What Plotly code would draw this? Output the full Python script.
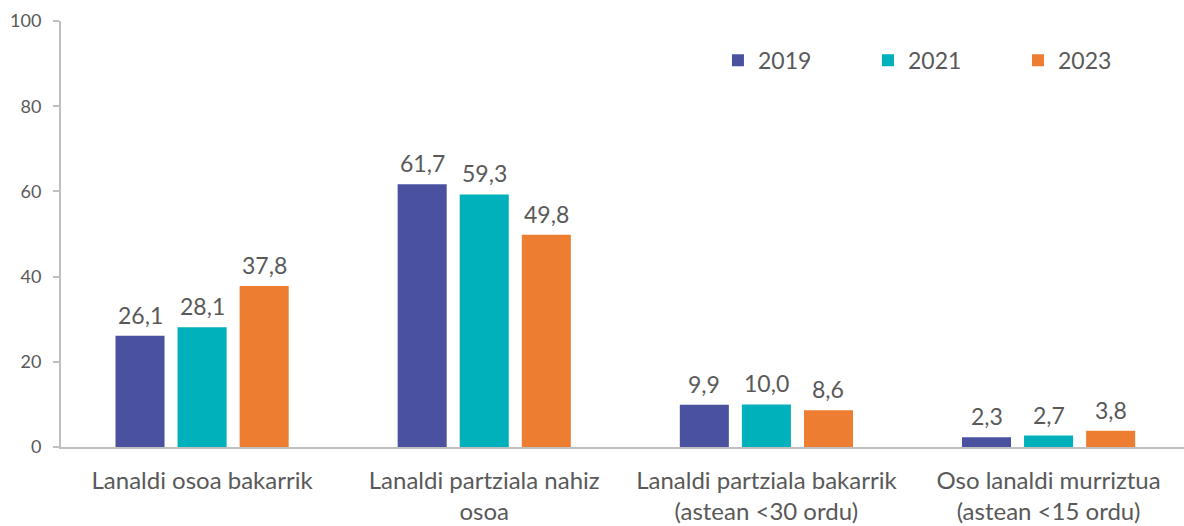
import plotly.graph_objects as go

# Data
categories = [
    "Lanaldi osoa bakarrik",
    "Lanaldi partziala nahiz<br>osoa",
    "Lanaldi partziala bakarrik<br>(astean <30 ordu)",
    "Oso lanaldi murriztua<br>(astean <15 ordu)",
]
years = ["2019", "2021", "2023"]
values_2019 = [26.1, 61.7, 9.9, 2.3]
values_2021 = [28.1, 59.3, 10.0, 2.7]
values_2023 = [37.8, 49.8, 8.6, 3.8]
y_ticks = [0, 20, 40, 60, 80, 100]

series = [values_2019, values_2021, values_2023]
colors = ["#4A52A0", "#00B0BA", "#ED7D31"]
font_family = "Lato, 'Open Sans', sans-serif"
text_color = "#595959"
axis_color = "#BFBFBF"

fig = go.Figure()
for name, vals, col in zip(years, series, colors):
    fig.add_trace(go.Bar(
        x=categories, y=vals, name=name,
        marker=dict(color=col, line=dict(width=0)),
    ))

# Value labels above each bar (offset to sit over its bar in the group)
pitch_px = 62
for i, vals in enumerate(series):
    for cat, v in zip(categories, vals):
        fig.add_annotation(
            x=cat, y=v, xref="x", yref="y",
            text=f"{v:.1f}".replace(".", ","),
            showarrow=False, yanchor="bottom",
            xshift=(i - 1) * pitch_px, yshift=5,
            font=dict(family=font_family, size=23, color=text_color),
        )

fig.update_layout(
    width=1184, height=526,
    margin=dict(l=61, r=0, t=21, b=79),
    paper_bgcolor="white", plot_bgcolor="white",
    barmode="group", bargap=0.34, bargroupgap=0.21,
    font=dict(family=font_family, color=text_color),
    legend=dict(
        orientation="h", x=0.585, xanchor="left", y=0.908, yanchor="middle",
        font=dict(family=font_family, size=23, color=text_color),
        entrywidth=105, entrywidthmode="pixels",
        bgcolor="rgba(0,0,0,0)",
    ),
    xaxis=dict(
        range=[-0.5, 3.48],
        showline=True, linecolor=axis_color, linewidth=2,
        ticks="", showgrid=False,
        tickfont=dict(family=font_family, size=24, color=text_color),
        ticklabelstandoff=11,
    ),
    yaxis=dict(
        range=[0, 100], tickvals=y_ticks,
        showline=True, linecolor=axis_color, linewidth=2,
        ticks="outside", ticklen=6, tickcolor=axis_color, tickwidth=2,
        showgrid=False, zeroline=False,
        tickfont=dict(family=font_family, size=18, color=text_color),
        ticklabelstandoff=8,
    ),
)

fig.write_html("out.html")
